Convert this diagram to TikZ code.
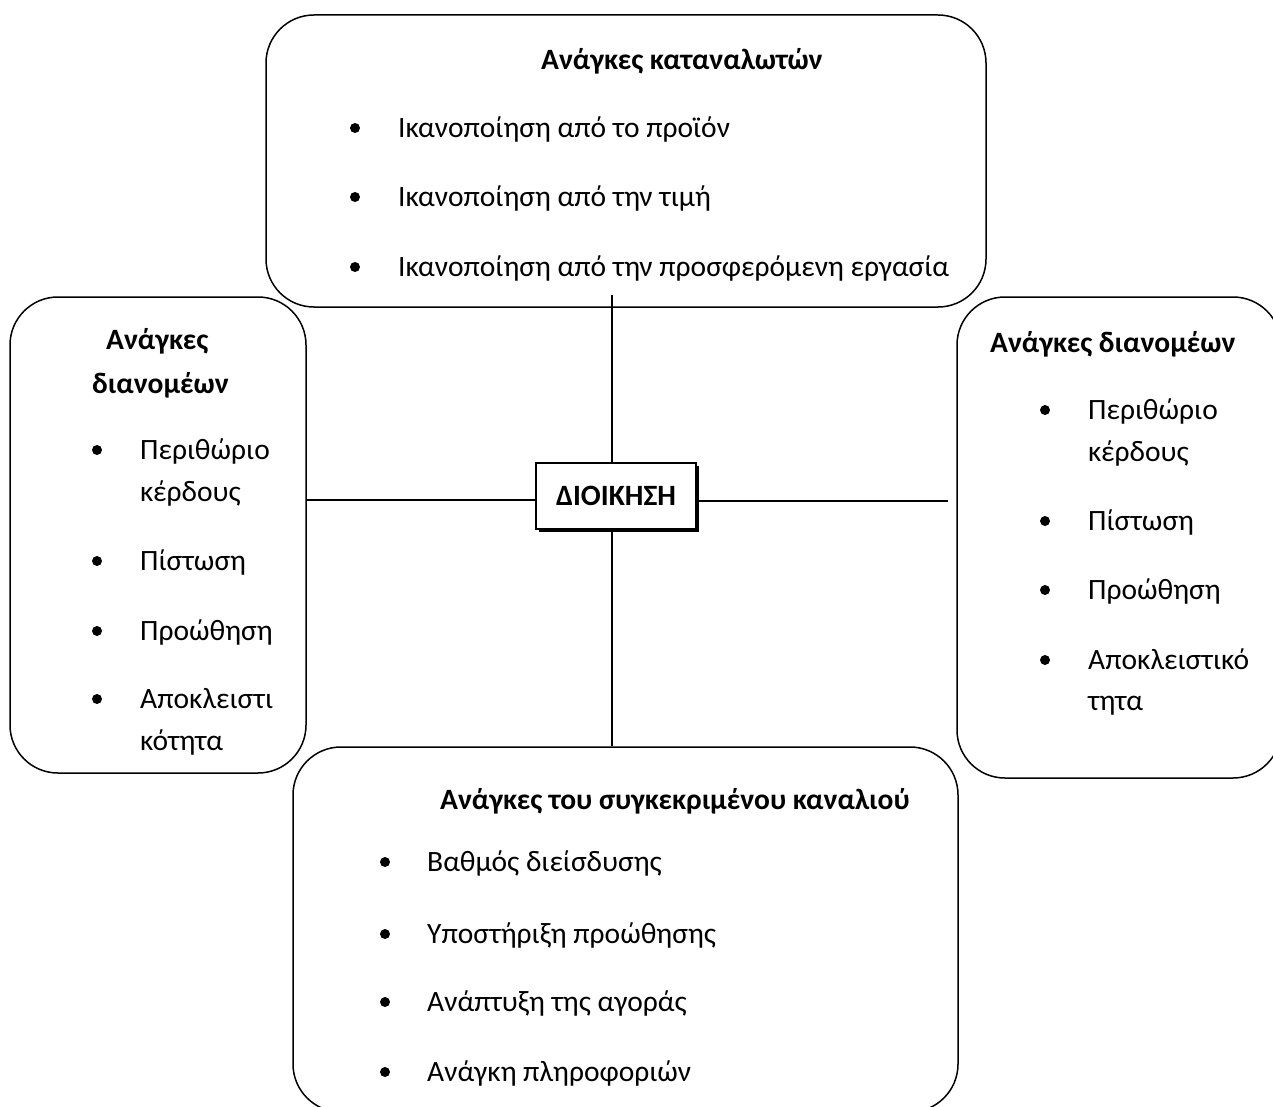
\documentclass[tikz,border=0pt]{standalone}
\usepackage{fontspec}
\setmainfont{Carlito}
\usetikzlibrary{shadows}

\newcommand{\bodysize}{\fontsize{29.5}{35}\selectfont}

\begin{document}
\begin{tikzpicture}[x=1pt,y=-1pt,
  needbox/.style={draw,line width=1.5pt,rounded corners=48pt,inner sep=0pt},
  title/.style={anchor=west,font=\bodysize\bfseries,inner sep=0pt,yshift=-3pt},
  item/.style={anchor=west,font=\bodysize,inner sep=0pt,text height=0.7em,text depth=0.25em,yshift=-7pt},
  dot/.style={circle,fill,inner sep=0pt,minimum size=10pt},
  link/.style={line width=1.3pt}]
  \useasboundingbox (0,0) rectangle (1273,1107);
  \clip (0,0) rectangle (1273,1107);

  % Boxes
  \node[needbox,minimum width=720pt,minimum height=292pt] (consumers) at (626,161) {};
  \node[needbox,minimum width=296pt,minimum height=476pt] (leftdist) at (158,535) {};
  \node[needbox,minimum width=324pt,minimum height=481pt] (rightdist) at (1119,537.5) {};
  \node[needbox,minimum width=665pt,minimum height=365pt] (channel) at (625.5,929.5) {};

  % Management
  \node[draw,fill=white,line width=1.5pt,minimum width=160pt,minimum height=66pt,
        drop shadow={shadow xshift=3pt,shadow yshift=-3pt,fill=black,opacity=1},
        font=\bodysize\bfseries] (mgmt) at (616,496) {ΔΙΟΙΚΗΣΗ};

  % Titles
  \node[title] (consumerstitle) at (541,58) {Ανάγκες καταναλωτών};
  \node[title] (lefttitleA) at (106,338) {Ανάγκες};
  \node[title] (lefttitleB) at (92,382) {διανομέων};
  \node[title] (righttitle) at (990,341) {Ανάγκες διανομέων};
  \node[title] (channeltitle) at (440,798) {Ανάγκες του συγκεκριμένου καναλιού};

  % Items of the consumers
  \foreach \y/\t [count=\i] in {128/Ικανοποίηση από το προϊόν,
      197/Ικανοποίηση από την τιμή,
      267/Ικανοποίηση από την προσφερόμενη εργασία} {
    \node[dot] (cdot\i) at (355,\y) {};
    \node[item] (citem\i) at (398,\y) {\t};
  }

  % Items of the distributors, left
  \foreach \y in {450,561,631,699}
    \node[dot] at (97,\y) {};
  \foreach \y/\t [count=\i] in {450/Περιθώριο, 492/κέρδους, 561/Πίστωση,
      631/Προώθηση, 699/Αποκλειστι, 741/κότητα}
    \node[item] (litem\i) at (140,\y) {\t};

  % Items of the distributors, right
  \foreach \y in {410,521,590,660}
    \node[dot] at (1045,\y) {};
  \foreach \y/\t [count=\i] in {410/Περιθώριο, 452/κέρδους, 521/Πίστωση,
      590/Προώθηση, 660/Αποκλειστικό, 701/τητα}
    \node[item] (ritem\i) at (1088,\y) {\t};

  % Items of the channel
  \foreach \y/\t [count=\i] in {862/Βαθμός διείσδυσης, 934/Υποστήριξη προώθησης,
      1002/Ανάπτυξη της αγοράς, 1072/Ανάγκη πληροφοριών} {
    \node[dot] (bdot\i) at (385,\y) {};
    \node[item] (bitem\i) at (427,\y) {\t};
  }

  % Connectors
  \coordinate (topend) at (612,295);
  \coordinate (rightend) at (948,501);
  \draw[link] (topend) -- (topend |- mgmt.north);
  \draw[link] (mgmt.south -| topend) -- (topend |- channel.north);
  \draw[link] (leftdist.east |- 0,500) -- (mgmt.west |- 0,500);
  \draw[link] (mgmt.east |- rightend) -- (rightend);
\end{tikzpicture}
\end{document}
